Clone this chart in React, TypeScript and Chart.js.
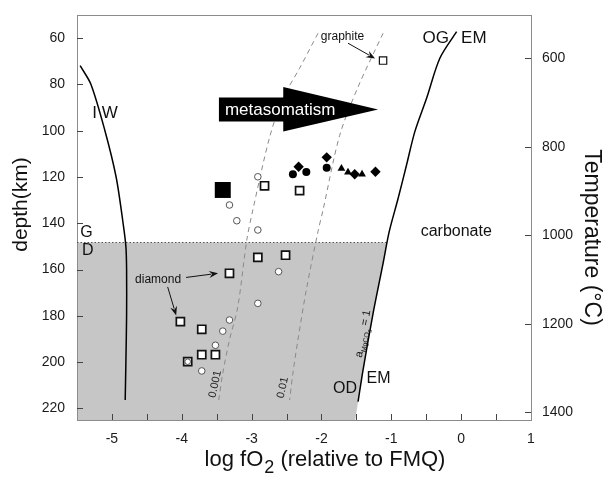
import React, { useEffect, useRef } from "react";
import { Chart, registerables } from "chart.js";

Chart.register(...registerables);

const FONT = '"Liberation Sans", Arial, Helvetica, sans-serif';

// ---- axes ----
const xRange = [-5.5, 1];
const depthRange = [50, 225];
const tempRange = [502, 1417];
const xTickValues = [-5, -4.5, -4, -3.5, -3, -2.5, -2, -1.5, -1, -0.5, 0, 0.5, 1];
const depthTickValues = [60, 80, 100, 120, 140, 160, 180, 200, 220];
const tempTickValues = [600, 800, 1000, 1200, 1400];

// ---- curves: [log fO2, depth km] ----
const iwCurve = [
  [-5.455, 71.9], [-5.3, 80], [-5.1, 100], [-4.94, 120], [-4.84, 140],
  [-4.8, 150], [-4.79, 160], [-4.79, 180], [-4.8, 200], [-4.81, 216.4],
];
const ogEmCurve = [
  [-0.065, 57.2], [-0.305, 68.7], [-0.495, 86.0], [-0.663, 100.4], [-0.782, 114.8],
  [-0.902, 129.2], [-1.03, 143.6], [-1.118, 157.3], [-1.261, 178.9], [-1.405, 203.4],
  [-1.476, 217.1],
];
const iso001Curve = [
  [-2.05, 57.9], [-2.313, 73.0], [-2.552, 86.0], [-2.743, 102.9], [-2.983, 134.3],
  [-3.069, 147.2], [-3.198, 176.1], [-3.317, 190.4], [-3.413, 204.8], [-3.471, 216.4],
];
const iso01Curve = [
  [-1.118, 57.9], [-1.475, 81.0], [-1.739, 102.0], [-1.978, 134.3], [-2.05, 143.6],
  [-2.217, 168.8], [-2.337, 190.4], [-2.409, 204.8], [-2.456, 216.4],
];
const graphiteDiamondDepth = 148.3;

// ---- samples: [log fO2, depth km] ----
const openSquares = [
  [-2.815, 123.8], [-2.313, 125.9], [-2.911, 154.7], [-2.514, 153.8], [-3.317, 161.6],
  [-4.02, 182.5], [-3.714, 185.8], [-3.714, 196.8], [-3.518, 196.8],
];
const graphiteSquare = [[-1.118, 69.7]];
const squareWithCircle = [[-3.915, 199.8]];
const bigFilledSquare = [[-3.413, 125.6]];
const openCircles = [
  [-2.911, 119.9], [-3.317, 132.1], [-3.212, 138.9], [-2.911, 142.9], [-2.614, 160.9],
  [-2.911, 174.6], [-3.317, 181.8], [-3.413, 186.6], [-3.518, 192.7], [-3.714, 203.8],
];
const filledCircles = [[-2.409, 118.8], [-2.217, 117.8], [-1.925, 116.0]];
const filledDiamonds = [[-2.327, 115.6], [-1.925, 111.5], [-1.524, 118.8], [-1.227, 117.7]];
const filledTriangles = [[-1.714, 116.3], [-1.62, 118.0], [-1.419, 118.8]];

// ---- annotations (data coordinates) ----
const metasomatismArrow = { tail: -3.468, headBase: -2.547, tip: -1.189, bodyTop: 85.7, bodyBottom: 96.0, headTop: 81.1, headBottom: 100.3 };
const labels = [
  { text: "I W", x: -5.099, y: 92.5, size: 17 },
  { text: "G", x: -5.364, y: 144.0, size: 16 },
  { text: "D", x: -5.347, y: 152.0, size: 16 },
  { text: "OG", x: -0.364, y: 60.1, size: 17 },
  { text: "EM", x: 0.181, y: 60.1, size: 17 },
  { text: "carbonate", x: -0.07, y: 143.6, size: 16 },
  { text: "OD", x: -1.663, y: 211.3, size: 16 },
  { text: "EM", x: -1.184, y: 207.0, size: 16 },
  { text: "diamond", x: -4.339, y: 164.4, size: 12 },
  { text: "graphite", x: -1.699, y: 59.4, size: 12 },
  { text: "0.001", x: -3.521, y: 209.5, size: 11, rot: -78, color: "#222" },
  { text: "0.01", x: -2.553, y: 211.0, size: 11, rot: -78, color: "#222" },
];
const pointerArrows = [
  { from: [-4.202, 167.5], to: [-4.08, 179.8] },
  { from: [-3.938, 163.4], to: [-3.48, 161.6] },
  { from: [-1.62, 62.2], to: [-1.232, 68.8] },
];

const toPts = (arr: number[][]) => arr.map(([x, y]) => ({ x, y }));

function xAtDepth(curve: number[][], d: number) {
  for (let i = 0; i < curve.length - 1; i++) {
    const [x0, y0] = curve[i];
    const [x1, y1] = curve[i + 1];
    if (d >= y0 && d <= y1) return x0 + ((x1 - x0) * (d - y0)) / (y1 - y0);
  }
  const [x0, y0] = curve[curve.length - 2];
  const [x1, y1] = curve[curve.length - 1];
  return x0 + ((x1 - x0) * (d - y0)) / (y1 - y0);
}

const diagramPlugin = {
  id: "diagram",
  beforeDraw(chart: any) {
    const { ctx, scales } = chart;
    const X = scales.x, Y = scales.y;
    const d0 = graphiteDiamondDepth;
    const dB = depthRange[1];
    const poly: number[][] = [
      [xRange[0], d0],
      [xAtDepth(ogEmCurve, d0), d0],
      ...ogEmCurve.filter((p) => p[1] > d0),
      [xAtDepth(ogEmCurve, dB), dB],
      [xRange[0], dB],
    ];
    ctx.save();
    ctx.beginPath();
    poly.forEach(([vx, vy], i) => {
      const px = X.getPixelForValue(vx), py = Y.getPixelForValue(vy);
      if (i === 0) ctx.moveTo(px, py); else ctx.lineTo(px, py);
    });
    ctx.closePath();
    ctx.fillStyle = "#c6c6c6";
    ctx.fill();
    ctx.restore();
  },
  afterDraw(chart: any) {
    const { ctx, chartArea: a, scales } = chart;
    const X = scales.x, Y = scales.y, T = scales.y2;
    const px = (v: number) => X.getPixelForValue(v);
    const py = (v: number) => Y.getPixelForValue(v);
    ctx.save();
    // top frame
    ctx.strokeStyle = "#8c8c8c";
    ctx.lineWidth = 1;
    ctx.beginPath();
    ctx.moveTo(a.left, a.top + 0.5);
    ctx.lineTo(a.right, a.top + 0.5);
    ctx.stroke();
    // inward ticks
    ctx.strokeStyle = "#444";
    ctx.lineWidth = 1;
    ctx.beginPath();
    X.ticks.forEach((t: any) => {
      const x = Math.round(X.getPixelForValue(t.value)) + 0.5;
      if (x > a.right - 2) return;
      ctx.moveTo(x, a.bottom);
      ctx.lineTo(x, a.bottom - 6);
    });
    Y.ticks.forEach((t: any) => {
      const y = Math.round(Y.getPixelForValue(t.value)) + 0.5;
      ctx.moveTo(a.left, y);
      ctx.lineTo(a.left + 6, y);
    });
    T.ticks.forEach((t: any) => {
      const y = Math.round(T.getPixelForValue(t.value)) + 0.5;
      ctx.moveTo(a.right, y);
      ctx.lineTo(a.right - 6, y);
    });
    ctx.stroke();

    // metasomatism arrow
    const m = metasomatismArrow;
    const mid = (m.bodyTop + m.bodyBottom) / 2;
    ctx.fillStyle = "#000";
    ctx.beginPath();
    ctx.moveTo(px(m.tail), py(m.bodyTop));
    ctx.lineTo(px(m.headBase), py(m.bodyTop));
    ctx.lineTo(px(m.headBase), py(m.headTop));
    ctx.lineTo(px(m.tip), py(mid));
    ctx.lineTo(px(m.headBase), py(m.headBottom));
    ctx.lineTo(px(m.headBase), py(m.bodyBottom));
    ctx.lineTo(px(m.tail), py(m.bodyBottom));
    ctx.closePath();
    ctx.fill();
    ctx.fillStyle = "#fff";
    ctx.font = `17px ${FONT}`;
    ctx.textAlign = "left";
    ctx.textBaseline = "middle";
    ctx.fillText("metasomatism", px(m.tail) + 6, py(mid) + 0.5);

    // pointer arrows
    pointerArrows.forEach(({ from, to }) => {
      const x0 = px(from[0]), y0 = py(from[1]), x1 = px(to[0]), y1 = py(to[1]);
      const ang = Math.atan2(y1 - y0, x1 - x0);
      const L = 9, W = 3.5;
      const bx = x1 - L * Math.cos(ang), by = y1 - L * Math.sin(ang);
      ctx.strokeStyle = "#111";
      ctx.lineWidth = 1;
      ctx.beginPath();
      ctx.moveTo(x0, y0);
      ctx.lineTo(bx + 2 * Math.cos(ang), by + 2 * Math.sin(ang));
      ctx.stroke();
      ctx.fillStyle = "#111";
      ctx.beginPath();
      ctx.moveTo(x1, y1);
      ctx.lineTo(bx - W * Math.sin(ang), by + W * Math.cos(ang));
      ctx.lineTo(bx + 3 * Math.cos(ang), by + 3 * Math.sin(ang));
      ctx.lineTo(bx + W * Math.sin(ang), by - W * Math.cos(ang));
      ctx.closePath();
      ctx.fill();
    });

    // text labels
    labels.forEach((l: any) => {
      ctx.save();
      ctx.translate(px(l.x), py(l.y));
      if (l.rot) ctx.rotate((l.rot * Math.PI) / 180);
      ctx.fillStyle = l.color || "#111";
      ctx.font = `${l.size}px ${FONT}`;
      ctx.textAlign = "center";
      ctx.textBaseline = "middle";
      ctx.fillText(l.text, 0, 0);
      ctx.restore();
    });

    // a_MgCO3 = 1 along the EM line
    ctx.save();
    ctx.translate(px(-1.424), py(198.2));
    ctx.rotate((-79.5 * Math.PI) / 180);
    ctx.fillStyle = "#111";
    ctx.textAlign = "left";
    ctx.textBaseline = "alphabetic";
    let cx = 0;
    ctx.font = `11px ${FONT}`;
    ctx.fillText("a", cx, 0);
    cx += ctx.measureText("a").width;
    ctx.font = `7px ${FONT}`;
    ctx.fillText("MgCO", cx, 3);
    cx += ctx.measureText("MgCO").width;
    ctx.font = `5.5px ${FONT}`;
    ctx.fillText("3", cx, 5);
    cx += ctx.measureText("3").width;
    ctx.font = `11px ${FONT}`;
    ctx.fillText(" = 1", cx, 0);
    ctx.restore();

    // axis titles
    ctx.fillStyle = "#111";
    ctx.save();
    ctx.translate(a.left - 55.5, (a.top + a.bottom) / 2 - 13);
    ctx.rotate(-Math.PI / 2);
    ctx.font = `21px ${FONT}`;
    ctx.textAlign = "center";
    ctx.textBaseline = "middle";
    ctx.fillText("depth(km)", 0, 0);
    ctx.restore();

    ctx.save();
    ctx.translate(a.right + 60.5, (a.top + a.bottom) / 2 + 20);
    ctx.rotate(Math.PI / 2);
    ctx.font = `23px ${FONT}`;
    ctx.textAlign = "center";
    ctx.textBaseline = "middle";
    ctx.fillText("Temperature (\u00B0C)", 0, 0);
    ctx.restore();

    const main = `22px ${FONT}`, sub = `18px ${FONT}`;
    const p1 = "log fO", p2 = "2", p3 = " (relative to FMQ)";
    ctx.font = main;
    const w1 = ctx.measureText(p1).width + 1, w3 = ctx.measureText(p3).width;
    ctx.font = sub;
    const w2 = ctx.measureText(p2).width;
    let tx = (a.left + a.right) / 2 + 21 - (w1 + w2 + w3) / 2;
    const base = a.bottom + 46;
    ctx.textAlign = "left";
    ctx.textBaseline = "alphabetic";
    ctx.font = main;
    ctx.fillText(p1, tx, base);
    tx += w1;
    ctx.font = sub;
    ctx.fillText(p2, tx, base + 7);
    tx += w2;
    ctx.font = main;
    ctx.fillText(p3, tx, base);
    ctx.restore();
  },
};

export default function App() {
  const ref = useRef<HTMLCanvasElement | null>(null);
  useEffect(() => {
    if (!ref.current) return;
    const lineDs = (label: string, data: number[][], extra: any) => ({
      label,
      data: toPts(data),
      showLine: true,
      pointRadius: 0,
      fill: false,
      yAxisID: "y",
      order: 10,
      ...extra,
    });
    const ptDs = (label: string, data: number[][], extra: any) => ({
      label,
      data: toPts(data),
      showLine: false,
      yAxisID: "y",
      order: 1,
      ...extra,
    });
    const tickFont = { family: FONT, size: 14 };
    const chart = new Chart(ref.current, {
      type: "scatter",
      data: {
        datasets: [
          lineDs("IW", iwCurve, { borderColor: "#000", borderWidth: 1.5, tension: 0.3 }),
          lineDs("OG/EM", ogEmCurve, { borderColor: "#000", borderWidth: 1.5, tension: 0.3 }),
          lineDs("0.001", iso001Curve, { borderColor: "#8a8a8a", borderWidth: 1, borderDash: [5, 4], tension: 0.3 }),
          lineDs("0.01", iso01Curve, { borderColor: "#8a8a8a", borderWidth: 1, borderDash: [5, 4], tension: 0.3 }),
          lineDs("G/D", [[xRange[0], graphiteDiamondDepth], [xAtDepth(ogEmCurve, graphiteDiamondDepth), graphiteDiamondDepth]], {
            borderColor: "#555", borderWidth: 1, borderDash: [1.5, 2],
          }),
          ptDs("open squares", openSquares, { pointStyle: "rect", pointRadius: 5.7, backgroundColor: "#fff", borderColor: "#111", borderWidth: 1.7 }),
          ptDs("graphite", graphiteSquare, { pointStyle: "rect", pointRadius: 5.2, backgroundColor: "#fff", borderColor: "#111", borderWidth: 1.2 }),
          ptDs("square+circle", squareWithCircle, { pointStyle: "rect", pointRadius: 5.7, backgroundColor: "#fff", borderColor: "#111", borderWidth: 1.7, order: 2 }),
          ptDs("inner circle", squareWithCircle, { pointStyle: "circle", pointRadius: 2.8, backgroundColor: "#fff", borderColor: "#555", borderWidth: 1, order: 0 }),
          ptDs("big square", bigFilledSquare, { pointStyle: "rect", pointRadius: 11.3, backgroundColor: "#000", borderColor: "#000", borderWidth: 0 }),
          ptDs("open circles", openCircles, { pointStyle: "circle", pointRadius: 3.3, backgroundColor: "#fff", borderColor: "#555", borderWidth: 1 }),
          ptDs("filled circles", filledCircles, { pointStyle: "circle", pointRadius: 4, backgroundColor: "#000", borderColor: "#000", borderWidth: 0 }),
          ptDs("filled diamonds", filledDiamonds, { pointStyle: "rectRot", pointRadius: 5.2, backgroundColor: "#000", borderColor: "#000", borderWidth: 0 }),
          ptDs("filled triangles", filledTriangles, { pointStyle: "triangle", pointRadius: 4.5, backgroundColor: "#000", borderColor: "#000", borderWidth: 0 }),
        ],
      },
      options: {
        animation: false,
        responsive: false,
        events: [],
        layout: { padding: { top: 15, left: 0, right: 0, bottom: 0 } },
        plugins: { legend: { display: false }, tooltip: { enabled: false } },
        scales: {
          x: {
            type: "linear",
            position: "bottom",
            min: xRange[0],
            max: xRange[1],
            grid: { display: false, drawTicks: false },
            border: { display: true, color: "#8c8c8c", width: 1 },
            afterBuildTicks: (s: any) => { s.ticks = xTickValues.map((v) => ({ value: v })); },
            afterFit: (s: any) => { s.height = 62; s.paddingLeft = 0; s.paddingRight = 0; },
            ticks: {
              font: tickFont,
              color: "#1a1a1a",
              padding: 11,
              autoSkip: false,
              maxRotation: 0,
              callback: (v: any) => (Number.isInteger(v) ? String(v) : ""),
            },
          },
          y: {
            type: "linear",
            position: "left",
            reverse: true,
            min: depthRange[0],
            max: depthRange[1],
            grid: { display: false, drawTicks: false },
            border: { display: true, color: "#8c8c8c", width: 1 },
            afterBuildTicks: (s: any) => { s.ticks = depthTickValues.map((v) => ({ value: v })); },
            afterFit: (s: any) => { s.width = 77; s.paddingTop = 0; s.paddingBottom = 0; },
            ticks: { font: tickFont, color: "#1a1a1a", padding: 12, callback: (v: any) => String(v) },
          },
          y2: {
            type: "linear",
            position: "right",
            reverse: true,
            min: tempRange[0],
            max: tempRange[1],
            grid: { display: false, drawTicks: false },
            border: { display: true, color: "#8c8c8c", width: 1 },
            afterBuildTicks: (s: any) => { s.ticks = tempTickValues.map((v) => ({ value: v })); },
            afterFit: (s: any) => { s.width = 74; s.paddingTop = 0; s.paddingBottom = 0; },
            ticks: { font: tickFont, color: "#1a1a1a", padding: 11, callback: (v: any) => String(v) },
          },
        },
      },
      plugins: [diagramPlugin],
    } as any);
    return () => chart.destroy();
  }, []);
  return (
    <div style={{ position: "absolute", left: 0, top: 0, width: 605, height: 482, background: "#fff" }}>
      <canvas ref={ref} width={605} height={482} style={{ display: "block" }} />
    </div>
  );
}
